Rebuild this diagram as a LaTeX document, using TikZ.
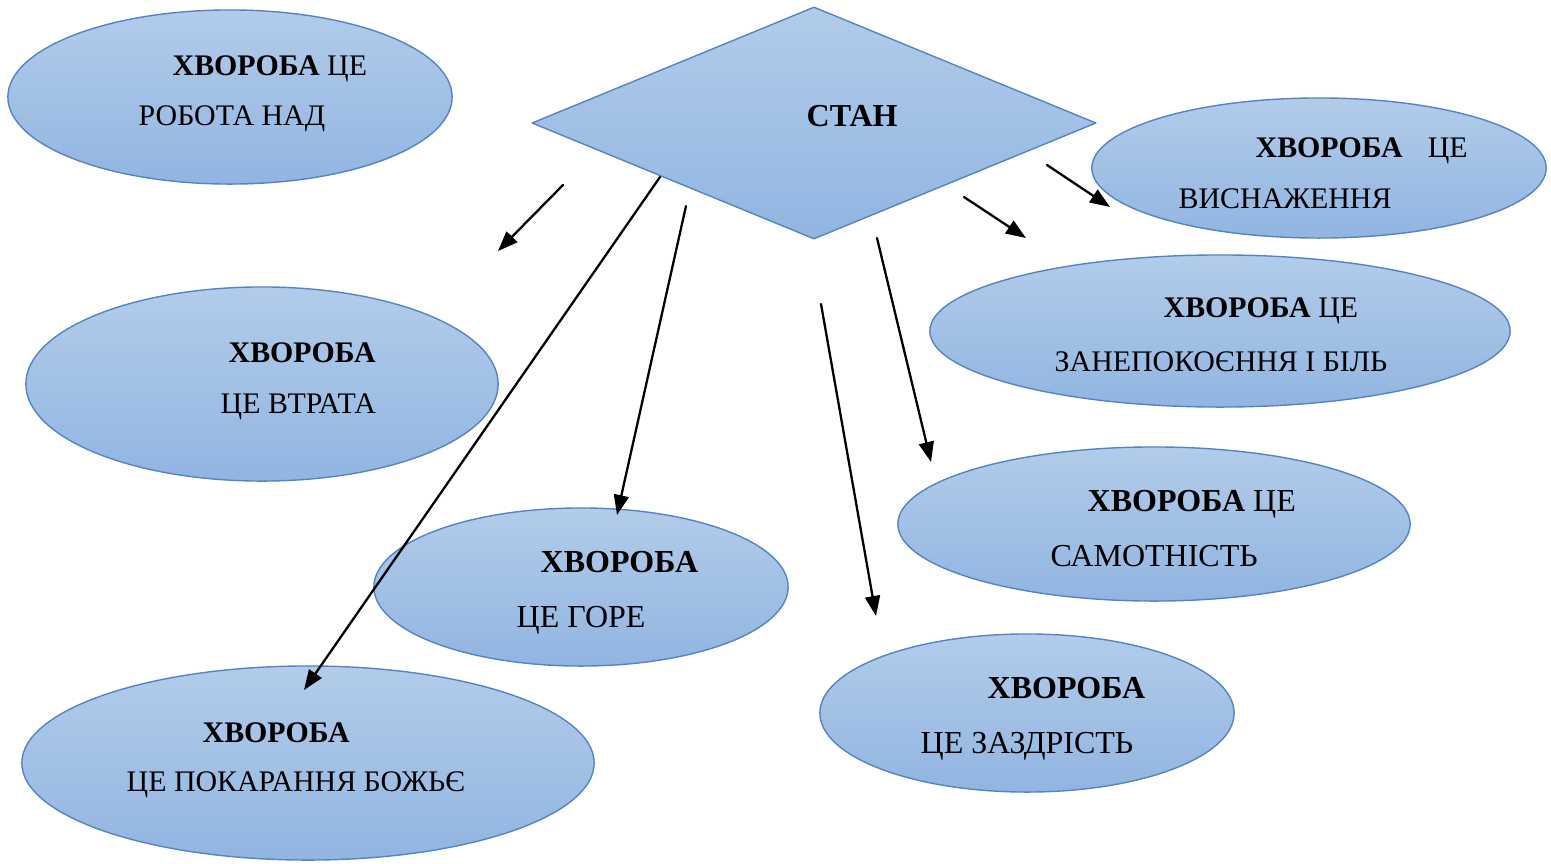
\documentclass[tikz,border=0pt]{standalone}
\usepackage{fontspec}
\setmainfont{Liberation Serif}
\usetikzlibrary{arrows.meta,shapes.geometric}
\definecolor{lightblue}{RGB}{178,204,234}
\definecolor{darkblue}{RGB}{145,181,225}
\definecolor{rimblue}{RGB}{84,132,196}
\tikzset{
  every picture/.style={line join=round, line cap=round},
  blob/.style={ellipse, draw=rimblue, line width=0.4pt, top color=lightblue, bottom color=darkblue, inner sep=0pt},
  rhomb/.style={diamond, draw=rimblue, line width=0.4pt, top color=lightblue, bottom color=darkblue, inner sep=0pt},
  txt/.style={anchor=base west, inner sep=0pt, font=\fontsize{8.5}{10}\selectfont},
  bigtxt/.style={anchor=base west, inner sep=0pt, font=\fontsize{9.1}{11}\selectfont},
  link/.style={-{Triangle[length=0.2cm,width=0.15cm]}, line width=0.65pt},
}

\begin{document}
\begin{tikzpicture}[x=0.01cm,y=-0.01cm]
\useasboundingbox (0,0) rectangle (1551,863);
\node[blob, minimum width=4.44cm, minimum height=1.74cm] (robota) at (230,97) {};
\node[rhomb, minimum width=5.64cm, minimum height=2.32cm] (stan) at (814,123) {};
\node[blob, minimum width=4.54cm, minimum height=1.40cm] (vysn) at (1319,168) {};
\node[blob, minimum width=5.80cm, minimum height=1.52cm] (bil) at (1220,331) {};
\node[blob, minimum width=4.72cm, minimum height=1.94cm] (vtrata) at (262,384) {};
\node[blob, minimum width=5.12cm, minimum height=1.54cm] (samot) at (1154,524) {};
\node[blob, minimum width=4.14cm, minimum height=1.58cm] (gore) at (581,587) {};
\node[blob, minimum width=4.14cm, minimum height=1.58cm] (zazdr) at (1027,713) {};
\node[blob, minimum width=5.72cm, minimum height=1.94cm] (kara) at (308,763) {};

\node[txt] (robota1) at (172,75) {\textbf{ХВОРОБА} ЦЕ};
\node[txt] (robota2) at (138,125) {РОБОТА НАД};
\node[bigtxt] (stan1) at (806,126) {\textbf{СТАН}};
\node[txt] (vysn1) at (1255,157) {\textbf{ХВОРОБА}\hspace{0.25cm}ЦЕ};
\node[txt] (vysn2) at (1178,208) {ВИСНАЖЕННЯ};
\node[txt] (bil1) at (1163,317) {\textbf{ХВОРОБА} ЦЕ};
\node[txt] (bil2) at (1054,371) {ЗАНЕПОКОЄННЯ І БІЛЬ};
\node[txt] (vtrata1) at (228,362) {\textbf{ХВОРОБА}};
\node[txt] (vtrata2) at (220,413) {ЦЕ ВТРАТА};
\node[bigtxt] (samot1) at (1087,511) {\textbf{ХВОРОБА} ЦЕ};
\node[bigtxt] (samot2) at (1050,566) {САМОТНІСТЬ};
\node[bigtxt] (gore1) at (540,572) {\textbf{ХВОРОБА}};
\node[bigtxt] (gore2) at (516,627) {ЦЕ ГОРЕ};
\node[bigtxt] (zazdr1) at (987,698) {\textbf{ХВОРОБА}};
\node[bigtxt] (zazdr2) at (920,753) {ЦЕ ЗАЗДРІСТЬ};
\node[txt] (kara1) at (202,742) {\textbf{ХВОРОБА}};
\node[txt] (kara2) at (126,791) {ЦЕ ПОКАРАННЯ БОЖЬЄ};

\coordinate (s1) at (563,185); \coordinate (e1) at (498,251);
\coordinate (s2) at (660,177); \coordinate (e2) at (304,690);
\coordinate (s3) at (686,206); \coordinate (e3) at (617,515);
\coordinate (s4) at (821,304); \coordinate (e4) at (876,616);
\coordinate (s5) at (877,238); \coordinate (e5) at (931,462);
\coordinate (s6) at (964,197); \coordinate (e6) at (1026,238);
\coordinate (s7) at (1047,165); \coordinate (e7) at (1110,207);
\draw[link] (s1) -- (e1);
\draw[link] (s2) -- (e2);
\draw[link] (s3) -- (e3);
\draw[link] (s4) -- (e4);
\draw[link] (s5) -- (e5);
\draw[link] (s6) -- (e6);
\draw[link] (s7) -- (e7);
\end{tikzpicture}
\end{document}
